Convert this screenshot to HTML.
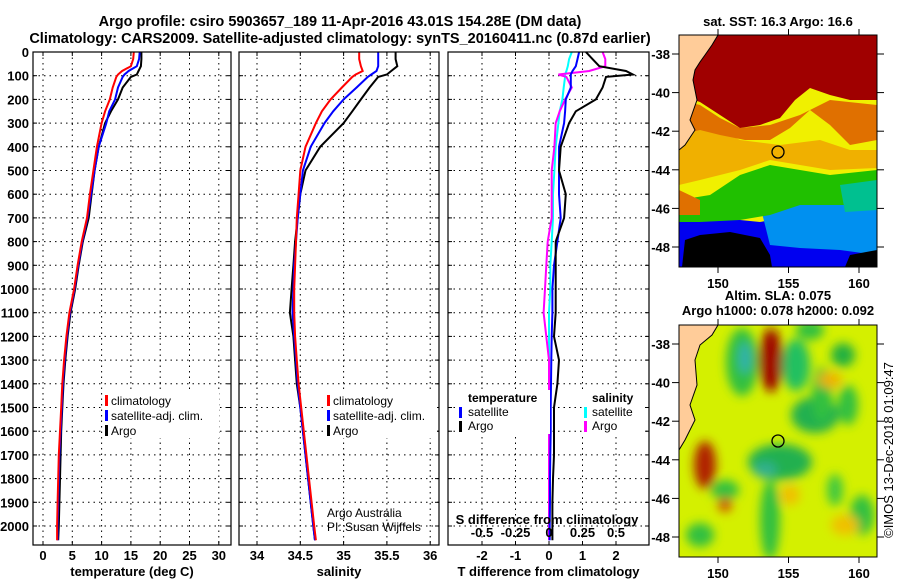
<!DOCTYPE html>
<html><head><meta charset="utf-8"><style>
html,body{margin:0;padding:0;background:#fff;}
svg{display:block;font-family:"Liberation Sans",sans-serif;}
.tk{font-size:13px;font-weight:bold;fill:#000;}
.tt{font-size:14.5px;font-weight:bold;fill:#000;}
</style></head><body>
<svg id="fig" width="900" height="580" viewBox="0 0 900 580">
<defs>
<filter id="blur6" x="-50%" y="-50%" width="200%" height="200%"><feGaussianBlur stdDeviation="5"/></filter>
<clipPath id="clipTop"><rect x="679" y="35" width="198" height="232"/></clipPath>
<clipPath id="clipBot"><rect x="679" y="325" width="198" height="232"/></clipPath>
</defs>
<text x="340" y="26" text-anchor="middle" class="tt">Argo profile: csiro 5903657_189 11-Apr-2016 43.01S 154.28E (DM data)</text>
<text x="340" y="43" text-anchor="middle" class="tt">Climatology: CARS2009. Satellite-adjusted climatology: synTS_20160411.nc (0.87d earlier)</text>

<g id="maps">
<text x="778" y="26" text-anchor="middle" class="tk">sat. SST: 16.3 Argo: 16.6</text>
<g clip-path="url(#clipTop)">
<rect x="679" y="35" width="198" height="232" fill="#f0f000"/>
<polygon fill="#0000f0" points="679,212 720,218 760,222 800,215 877,218 877,267 679,267"/>
<polygon fill="#0090f0" points="760,205 800,200 840,195 877,200 877,255 840,250 800,248 770,245"/>
<polygon fill="#000" points="685,240 700,235 730,232 760,238 770,255 772,267 682,267"/>
<polygon fill="#000" points="850,255 877,250 877,267 845,267"/>
<polygon fill="#20c000" points="679,200 710,195 740,175 770,165 800,170 830,175 877,170 877,205 830,205 800,205 770,215 740,220 700,222 679,222"/>
<polygon fill="#00c090" points="840,185 877,180 877,210 845,212"/>
<polygon fill="#f0b000" points="679,110 710,125 740,140 780,145 820,140 850,150 877,150 877,168 830,170 800,165 770,160 740,170 700,180 679,185"/>
<polygon fill="#e07000" points="679,100 700,105 720,118 740,128 770,125 800,115 830,100 877,105 877,140 850,145 830,125 810,110 790,128 770,140 745,140 720,135 700,130 679,135"/>
<polygon fill="#a00000" points="679,35 877,35 877,100 850,100 830,95 810,88 795,100 780,118 760,125 740,128 720,115 700,102 679,95"/>
<polygon fill="#e07000" points="679,190 700,200 700,215 679,215"/>
<polygon fill="#ffcc99" stroke="#000" stroke-width="1" points="679,35 718,35 712,45 705,55 700,62 695,70 693,80 697,100 690,120 695,130 685,145 679,150"/>
<circle cx="778" cy="152" r="6" fill="none" stroke="#000" stroke-width="1.3"/>
</g>
<rect x="679" y="35" width="198" height="232" fill="none" stroke="#000"/>

<text x="778" y="300" text-anchor="middle" class="tk">Altim. SLA: 0.075</text>
<text x="778" y="315" text-anchor="middle" class="tk">Argo h1000: 0.078 h2000: 0.092</text>
<g clip-path="url(#clipBot)">
<rect x="679" y="325" width="198" height="232" fill="#d4f000"/>
<g filter="url(#blur6)">
<ellipse cx="742" cy="362" rx="16" ry="34" fill="#30c040"/>
<ellipse cx="745" cy="358" rx="6" ry="16" fill="#30b0b0"/>
<ellipse cx="771" cy="360" rx="12" ry="32" fill="#a01000"/>
<ellipse cx="796" cy="365" rx="14" ry="26" fill="#20c060"/>
<ellipse cx="815" cy="415" rx="24" ry="18" fill="#20b050"/>
<ellipse cx="822" cy="395" rx="10" ry="28" fill="#30c040"/>
<ellipse cx="780" cy="462" rx="32" ry="18" fill="#20b050"/>
<ellipse cx="765" cy="470" rx="12" ry="8" fill="#30b090"/>
<ellipse cx="705" cy="465" rx="11" ry="24" fill="#b02000"/>
<ellipse cx="725" cy="490" rx="14" ry="10" fill="#30c040"/>
<ellipse cx="725" cy="505" rx="7" ry="7" fill="#d05000"/>
<ellipse cx="700" cy="535" rx="14" ry="12" fill="#30c040"/>
<ellipse cx="770" cy="520" rx="10" ry="40" fill="#30c040"/>
<ellipse cx="843" cy="355" rx="12" ry="12" fill="#20b040"/>
<ellipse cx="848" cy="405" rx="10" ry="20" fill="#30c040"/>
<ellipse cx="862" cy="515" rx="12" ry="20" fill="#30c040"/>
<ellipse cx="835" cy="490" rx="8" ry="16" fill="#40c840"/>
<ellipse cx="810" cy="330" rx="14" ry="10" fill="#30c040"/>
<ellipse cx="830" cy="380" rx="12" ry="8" fill="#f0b000"/>
<ellipse cx="790" cy="495" rx="10" ry="10" fill="#f0c000"/>
<ellipse cx="845" cy="525" rx="14" ry="10" fill="#f0c000"/>
</g>
<polygon fill="#ffcc99" stroke="#000" stroke-width="1" points="679,325 718,325 712,335 700,345 695,360 697,385 690,405 695,420 685,440 679,450"/>
<circle cx="778" cy="441" r="6" fill="none" stroke="#000" stroke-width="1.3"/>
</g>
<rect x="679" y="325" width="198" height="232" fill="none" stroke="#000"/>
<text transform="translate(893,450) rotate(-90)" text-anchor="middle" style="font-size:13px">©IMOS 13-Dec-2018 01:09:47</text>
</g>
<g id="plots"></g>
</svg>
<script>
// depth levels (m) shared by profiles
const depths=[0,30,60,80,95,105,150,200,250,300,400,500,600,700,800,900,1000,1100,1200,1300,1400,1500,1600,1700,1800,1900,2000,2060];
const tempArgo=[16.8,16.8,16.7,16.3,16.0,15.0,13.6,12.8,11.6,10.6,9.5,8.8,8.3,7.8,6.8,6.1,5.5,4.7,4.2,3.8,3.5,3.3,3.1,3.0,2.9,2.8,2.7,2.6];
const tempClim=[15.5,15.4,15.0,13.5,12.8,12.5,11.9,11.4,10.6,10.0,9.2,8.6,8.0,7.5,6.6,5.9,5.3,4.5,4.0,3.6,3.3,3.1,2.9,2.7,2.6,2.5,2.4,2.4];
const tempSat=[16.5,16.4,16.0,14.6,13.9,13.6,12.8,12.3,11.3,10.8,9.5,8.8,8.2,7.6,6.7,6.0,5.4,4.6,4.1,3.7,3.4,3.2,3.0,2.8,2.7,2.6,2.5,2.5];
const salArgo=[35.6,35.6,35.62,35.55,35.5,35.4,35.3,35.2,35.1,35.0,34.73,34.56,34.5,34.47,34.44,34.42,34.4,34.38,34.42,34.44,34.46,34.5,34.53,34.56,34.59,34.62,34.65,34.67];
const salClim=[35.18,35.18,35.2,35.22,35.14,35.1,34.98,34.85,34.75,34.68,34.56,34.5,34.48,34.46,34.45,34.44,34.43,34.43,34.44,34.46,34.48,34.51,34.54,34.57,34.6,34.63,34.66,34.68];
const salSat=[35.4,35.4,35.4,35.38,35.32,35.28,35.15,35.0,34.88,34.78,34.62,34.53,34.5,34.47,34.45,34.43,34.42,34.41,34.43,34.45,34.47,34.5,34.53,34.56,34.59,34.62,34.65,34.67];
const tDiffArgo=[1.1,1.3,1.5,2.3,2.5,1.7,1.6,1.4,0.8,0.6,0.35,0.3,0.5,0.45,0.2,0.2,0.2,0.2,0.15,0.3,0.25,0.15,0.15,0.15,0.12,0.1,0.1,0.1];
const tDiffSat=[0.9,0.85,0.8,0.7,0.65,0.65,0.65,0.5,0.48,0.45,0.3,0.3,0.3,0.35,0.25,0.15,0.1,0.1,0.08,0.07,0.06,0.05,0.05,0.04,0.03,0.03,0.02,0.02];
const sDiffArgo=[0.4,0.42,0.42,0.3,0.07,0.13,0.17,0.12,0.08,0.05,0.04,0.02,0.02,0.02,-0.01,-0.02,-0.03,-0.04,-0.02,0,0,0,0,0,0,0,0,0];
const sDiffSat=[0.17,0.15,0.14,0.13,0.12,0.12,0.11,0.1,0.08,0.07,0.05,0.04,0.03,0.03,0.02,0.01,0.01,0,0,0,0,0,0,0,0,0,0,0];
const depthTicks=[0,100,200,300,400,500,600,700,800,900,1000,1100,1200,1300,1400,1500,1600,1700,1800,1900,2000];
const tempTicks=[0,5,10,15,20,25,30];
const salTicks=[34,34.5,35,35.5,36];
const tdTicks=[-2,-1,0,1,2];
const sdTicks=[-0.5,-0.25,0,0.25,0.5];
const latTicks=[-38,-40,-42,-44,-46,-48];
const lonTicks=[150,155,160];

const NS='http://www.w3.org/2000/svg';
const root=document.getElementById('plots');
function mk(tag,attrs,parent){const e=document.createElementNS(NS,tag);for(const k in attrs)e.setAttribute(k,attrs[k]);(parent||root).appendChild(e);return e;}
const yTop=52,yBot=545;
const yD=d=>yTop+d*0.237;
function panel(x0,x1,xs,ticks,name,label,showDepthLabels){
  const g=mk('g',{});
  
  
  ticks.forEach(t=>{const x=xs(t);mk('line',{x1:x,x2:x,y1:yTop,y2:yBot,stroke:'#000','stroke-dasharray':'1.5,4','stroke-width':1},g);
    mk('line',{x1:x,x2:x,y1:yBot,y2:yBot-4,stroke:'#000'},g);mk('line',{x1:x,x2:x,y1:yTop,y2:yTop+4,stroke:'#000'},g);});
  depthTicks.forEach(d=>{const y=yD(d);mk('line',{x1:x0,x2:x1,y1:y,y2:y,stroke:'#000','stroke-dasharray':'1.5,4'},g);
    mk('line',{x1:x0,x2:x0+4,y1:y,y2:y,stroke:'#000'},g);mk('line',{x1:x1,x2:x1-4,y1:y,y2:y,stroke:'#000'},g);
    if(showDepthLabels){const t=mk('text',{x:x0-4,y:y+5,'text-anchor':'end',class:'tk'},g);t.textContent=d;}});
  if(label){const t=mk('text',{x:(x0+x1)/2,y:576,'text-anchor':'middle',class:'tk'},g);t.textContent=label;}
  return g;
}
function line(g,xs,vals,color,name,w){
  const pts=depths.map((d,i)=>xs(vals[i]).toFixed(1)+','+yD(d).toFixed(1)).join(' ');
  const p=mk('polyline',{points:pts,fill:'none',stroke:color,'stroke-width':w||2},g);
  
  
}
function frame(g,x0,x1,name){const r=mk('rect',{x:x0,y:yTop,width:x1-x0,height:yBot-yTop,fill:'none',stroke:'#000','stroke-width':1.2},g);
  }
function xticks(g,xs,ticks,y,fmt){ticks.forEach(t=>{const e=mk('text',{x:xs(t),y:y,'text-anchor':'middle',class:'tk'},g);e.textContent=fmt?fmt(t):t;});}
function legend(g,x,y,w,items){
  const bg=mk('rect',{x:x,y:y,width:w,height:items.length*15+2,fill:'#fff'},g);
  
  items.forEach((it,i)=>{const yy=y+2+i*15;
    mk('rect',{x:x+2,y:yy+2,width:3,height:11,fill:it[1]},g);
    const t=mk('text',{x:x+8,y:yy+12,style:'font-size:12px'},g);t.textContent=it[0];
    });
}
// Temperature panel
const xT=v=>43+v*5.86;
const g1=panel(33,231,xT,tempTicks,'temperature-panel','temperature (deg C)',true);
xticks(g1,xT,tempTicks,560);
line(g1,xT,tempArgo,'#000','argo-temperature-line');
line(g1,xT,tempSat,'#0000ff','satellite-temperature-line');
line(g1,xT,tempClim,'#ff0000','climatology-temperature-line');
legend(g1,103,391,116,[['climatology','#f00'],['satellite-adj. clim.','#00f'],['Argo','#000']]);
frame(g1,33,231,'temperature-axes-frame');
// Salinity panel
const xS=v=>257+(v-34)*86.6;
const g2=panel(239,439,xS,salTicks,'salinity-panel','salinity',false);
xticks(g2,xS,salTicks,560);
line(g2,xS,salArgo,'#000','argo-salinity-line');
line(g2,xS,salSat,'#0000ff','satellite-salinity-line');
line(g2,xS,salClim,'#ff0000','climatology-salinity-line');
legend(g2,325,391,112,[['climatology','#f00'],['satellite-adj. clim.','#00f'],['Argo','#000']]);
{const t=mk('text',{x:327,y:517,style:'font-size:12px'},g2);t.textContent='Argo Australia';
 const t2=mk('text',{x:327,y:531,style:'font-size:12px'},g2);t2.textContent='PI: Susan Wijffels';}
frame(g2,239,439,'salinity-axes-frame');
// Difference panel
const xTD=v=>549+v*33.5;
const xSD=v=>549+v*134;
const g3=panel(448,649,xTD,tdTicks,'difference-panel','T difference from climatology',false);
xticks(g3,xTD,tdTicks,560);
line(g3,xSD,sDiffSat,'#00ffff','satellite-salinity-diff-line');
line(g3,xSD,sDiffArgo,'#ff00ff','argo-salinity-diff-line');
line(g3,xTD,tDiffSat,'#0000ff','satellite-temperature-diff-line');
line(g3,xTD,tDiffArgo,'#000','argo-temperature-diff-line');
{mk('rect',{x:455,y:390,width:95,height:44,fill:'#fff'},g3);
 let t=mk('text',{x:468,y:402,style:'font-size:12px;font-weight:bold'},g3);t.textContent='temperature';
 mk('rect',{x:459,y:407,width:3,height:11,fill:'#00f'},g3);
 t=mk('text',{x:468,y:416,style:'font-size:12px'},g3);t.textContent='satellite';
 mk('rect',{x:459,y:421,width:3,height:11,fill:'#000'},g3);
 t=mk('text',{x:468,y:430,style:'font-size:12px'},g3);t.textContent='Argo';
 mk('rect',{x:582,y:390,width:62,height:44,fill:'#fff'},g3);
 t=mk('text',{x:592,y:402,style:'font-size:12px;font-weight:bold'},g3);t.textContent='salinity';
 mk('rect',{x:584,y:407,width:3,height:11,fill:'#0ff'},g3);
 t=mk('text',{x:592,y:416,style:'font-size:12px'},g3);t.textContent='satellite';
 mk('rect',{x:584,y:421,width:3,height:11,fill:'#f0f'},g3);
 t=mk('text',{x:592,y:430,style:'font-size:12px'},g3);t.textContent='Argo';
 t=mk('text',{x:547,y:524,'text-anchor':'middle',class:'tk'},g3);t.textContent='S difference from climatology';
 xticks(g3,xSD,sdTicks,537);}
frame(g3,448,649,'difference-axes-frame');
// Map axes ticks
const mg=mk('g',{});


const lonX=v=>718+(v-150)*14.1;
[[35,267,54],[325,557,344]].forEach(([t0,b0,lat38])=>{
  latTicks.forEach(l=>{const y=lat38+(-38-l)*19.3;
    mk('line',{x1:679,x2:672,y1:y,y2:y,stroke:'#000'},mg);mk('line',{x1:877,x2:884,y1:y,y2:y,stroke:'#000'},mg);
    const t=mk('text',{x:670,y:y+5,'text-anchor':'end',class:'tk'},mg);t.textContent=l;});
  lonTicks.forEach(l=>{const x=lonX(l);mk('line',{x1:x,x2:x,y1:b0,y2:b0+6,stroke:'#000'},mg);mk('line',{x1:x,x2:x,y1:t0,y2:t0-6,stroke:'#000'},mg);
    const t=mk('text',{x:x,y:b0+21,'text-anchor':'middle',class:'tk'},mg);t.textContent=l;});
});
</script>
</body></html>
